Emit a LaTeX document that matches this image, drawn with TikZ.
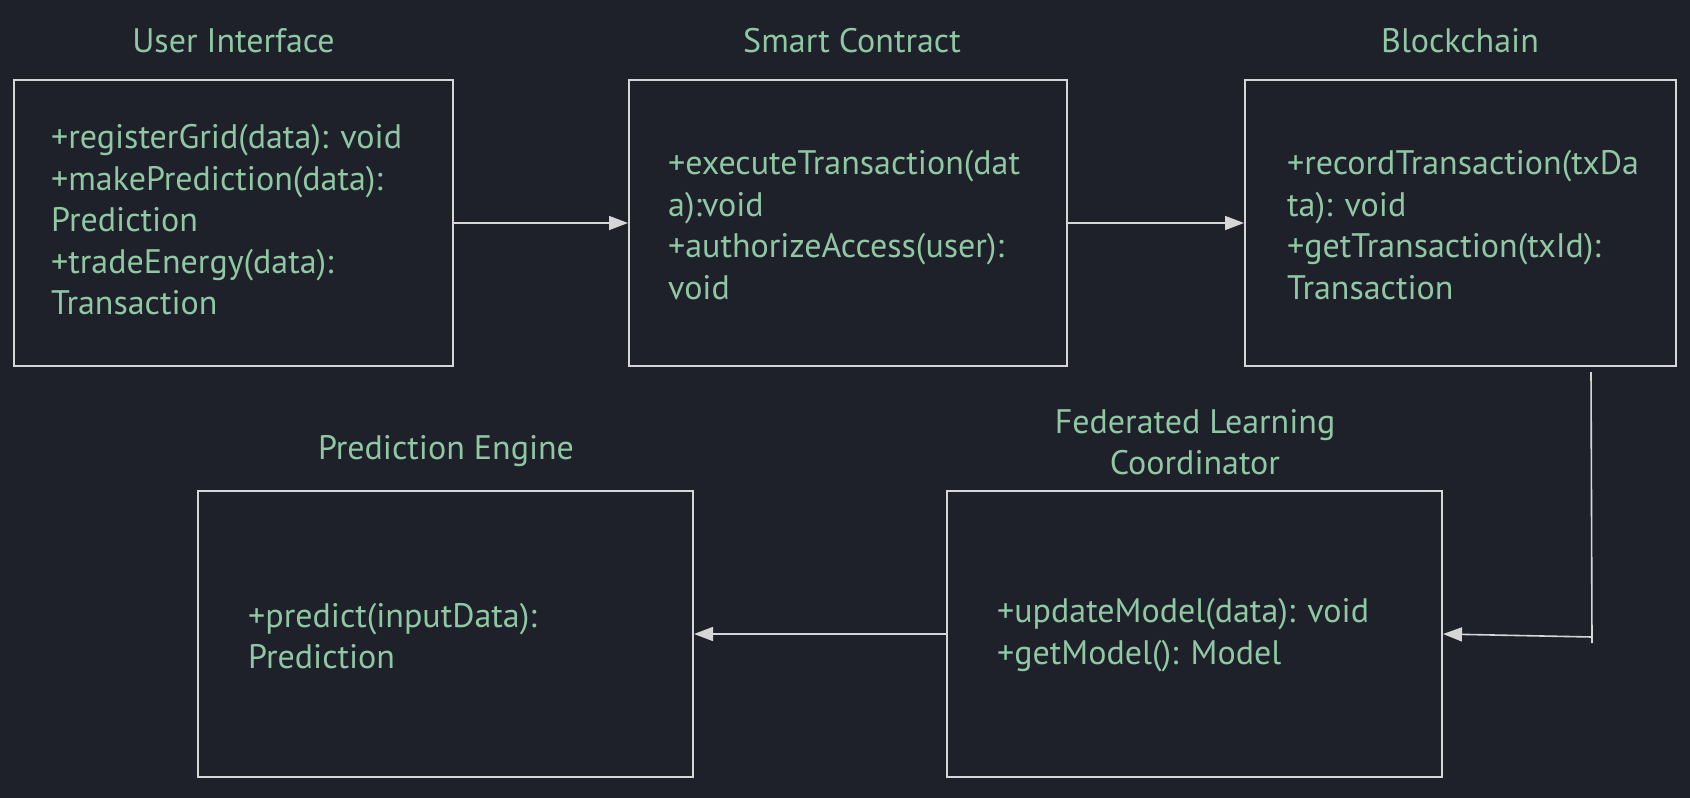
\documentclass[tikz,border=0pt]{standalone}
\usepackage{fontspec}
\setmainfont{PT Sans}
\usetikzlibrary{arrows.meta}
\definecolor{bgc}{HTML}{1E202A}
\definecolor{txt}{HTML}{8FC8A2}
\definecolor{ln}{HTML}{D6D6D6}
\tikzset{
  box/.style={draw=ln, line width=2pt, rectangle, inner sep=0pt},
  title/.style={text=txt, font=\fontsize{34}{41.5}\selectfont, align=center, inner sep=0pt},
  body/.style={text=txt, font=\fontsize{34}{41.5}\selectfont, align=left, anchor=west, inner sep=0pt},
  arr/.style={draw=ln, line width=1.6pt, -{Triangle[length=19pt,width=14pt]}},
  plain/.style={draw=ln, line width=1.6pt}
}
\begin{document}
\begin{tikzpicture}[x=1pt,y=-1pt]
\fill[bgc] (0,0) rectangle (1690,798);
\useasboundingbox (0,0) rectangle (1690,798);
% boxes
\node[box, minimum width=439pt, minimum height=286pt] (ui) at (233.5,223) {};
\node[box, minimum width=438pt, minimum height=286pt] (sc) at (848,223) {};
\node[box, minimum width=431pt, minimum height=286pt] (bc) at (1460.5,223) {};
\node[box, minimum width=495pt, minimum height=286pt] (pe) at (445.5,634) {};
\node[box, minimum width=495pt, minimum height=286pt] (fl) at (1194.5,634) {};
% titles
\node[title] (uit) at (233.5,41) {User Interface};
\node[title] (sct) at (852,41) {Smart Contract};
\node[title] (bct) at (1460,41) {Blockchain};
\node[title] (pet) at (446,451) {Prediction Engine};
\node[title] (flt) at (1195,442) {Federated Learning\\Coordinator};
% bodies
\node[body] (uib) at (51,220) {+registerGrid(data): void\\+makePrediction(data):\\Prediction\\+tradeEnergy(data):\\Transaction};
\node[body] (scb) at (668,225) {+executeTransaction(dat\\a):void\\+authorizeAccess(user):\\void};
\node[body] (bcb) at (1287,225) {+recordTransaction(txDa\\ta): void\\+getTransaction(txId):\\Transaction};
\node[body] (peb) at (248,636) {+predict(inputData):\\Prediction};
\node[body] (flb) at (997,635) {+updateModel(data): void\\+getModel(): Model};
% connectors
\draw[arr] (ui.east) -- (sc.west);
\draw[arr] (sc.east) -- (bc.west);
\draw[arr] (fl.west) -- (pe.east);
\coordinate (v1) at (1591,372);
\coordinate (v2) at (1592,643);
\coordinate (v3) at (1592,637);
\draw[plain] (v1) -- (v2);
\draw[arr] (v3) -- (fl.east);
\end{tikzpicture}
\end{document}
